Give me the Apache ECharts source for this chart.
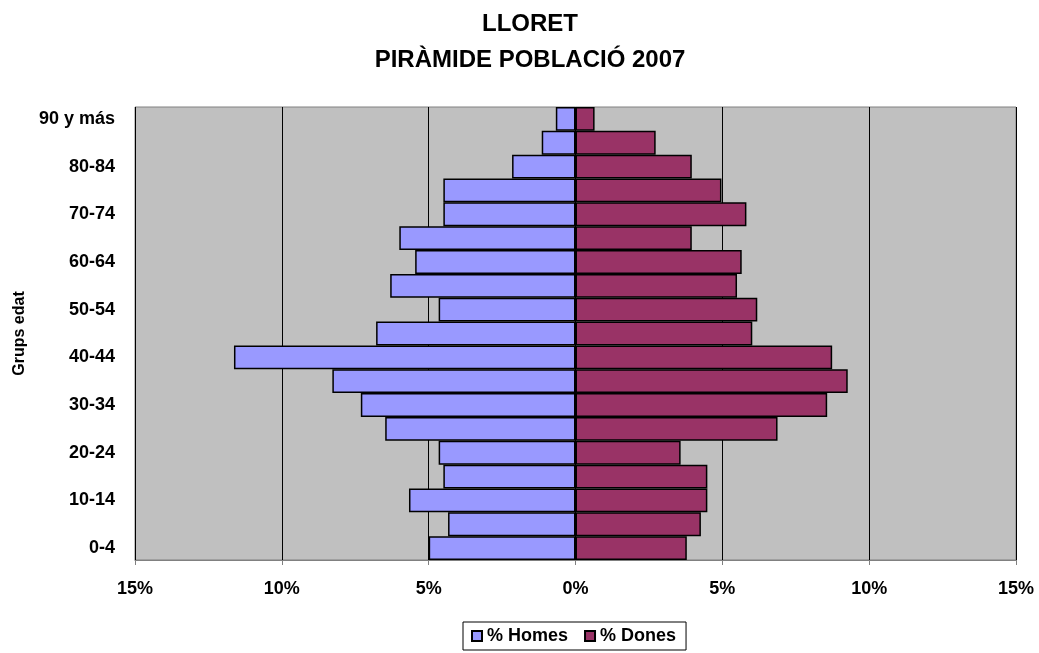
<!DOCTYPE html>
<html><head><meta charset="utf-8">
<script src="https://cdn.jsdelivr.net/npm/echarts@6/dist/echarts.min.js"></script>
<style>html,body{margin:0;padding:0;background:#fff}#c{width:1039px;height:653px}</style>
</head><body><div id="c"></div>
<script>
const categories = ['0-4','5-9','10-14','15-19','20-24','25-29','30-34','35-39','40-44','45-49','50-54','55-59','60-64','65-69','70-74','75-79','80-84','85-89','90 y más'];
const homes = [5.00,4.34,5.67,4.50,4.66,6.48,7.31,8.28,11.63,6.79,4.66,6.31,5.46,6.00,4.50,4.50,2.16,1.15,0.67];
const dones = [3.79,4.27,4.49,4.49,3.58,6.88,8.57,9.27,8.74,6.02,6.19,5.50,5.66,3.96,5.82,4.97,3.96,2.73,0.65];
const xTicks = [-15,-10,-5,0,5,10,15];

const chart = echarts.init(document.getElementById('c'));
const font = 'Liberation Sans, Arial, sans-serif';
chart.setOption({
  animation:false,
  title:{text:'LLORET\nPIRÀMIDE POBLACIÓ 2007',left:525,textAlign:'center',top:1,
    textStyle:{fontFamily:font,fontWeight:'bold',fontSize:24,lineHeight:36,color:'#000'}},
  legend:{top:622,left:463,itemWidth:10,itemHeight:10,itemGap:16,icon:'rect',
    borderColor:'#000',borderWidth:1,padding:[5,10,5,8],
    textStyle:{fontFamily:font,fontWeight:'bold',fontSize:18,color:'#000'},
    data:['% Homes','% Dones']},
  grid:{left:135,right:23,top:107,bottom:93,outerBoundsMode:'none',containLabel:false,show:true,backgroundColor:'#C0C0C0',borderColor:'#808080',borderWidth:1},
  xAxis:{type:'value',min:xTicks[0],max:xTicks[xTicks.length-1],interval:5,
    axisLine:{show:true,onZero:false,lineStyle:{color:'#808080',width:1}},
    axisTick:{show:true,length:5,lineStyle:{color:'#808080'}},
    splitLine:{show:true,lineStyle:{color:'#000',width:1}},
    axisLabel:{margin:20,fontFamily:font,fontWeight:'bold',fontSize:18,color:'#000',
      formatter:v=>Math.abs(v)+'%'}},
  yAxis:{type:'category',data:categories,name:'Grups edat',nameLocation:'middle',nameGap:106,
    nameTextStyle:{fontFamily:font,fontWeight:'bold',fontSize:16,color:'#000'},
    axisLine:{show:false},axisTick:{show:false},
    axisLabel:{interval:1,margin:20,fontFamily:font,fontWeight:'bold',fontSize:18,color:'#000'}},
  series:[
    {name:'% Homes',type:'bar',stack:'t',barCategoryGap:0,data:homes.map(v=>-v),
      itemStyle:{color:'#9999FF',borderColor:'#000',borderWidth:1.5}},
    {name:'% Dones',type:'bar',stack:'t',barCategoryGap:0,data:dones,
      itemStyle:{color:'#993366',borderColor:'#000',borderWidth:1.5}}
  ]
});
</script></body></html>
